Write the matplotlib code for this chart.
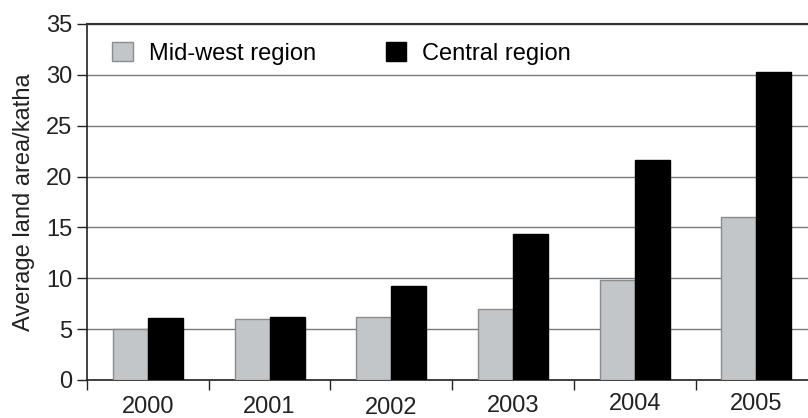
import matplotlib
matplotlib.use("Agg")
import matplotlib.pyplot as plt
from matplotlib.patches import Patch
import numpy as np

years = ["2000", "2001", "2002", "2003", "2004", "2005"]
midwest = [5.0, 6.0, 6.2, 7.0, 9.8, 16.0]
central = [6.1, 6.2, 9.2, 14.4, 21.6, 30.3]
series_names = ["Mid-west region", "Central region"]
yticks = [0, 5, 10, 15, 20, 25, 30, 35]

# per-label vertical offsets (points below axis) to mimic the staggered labels
label_offsets = [23.8, 23.8, 24.4, 23.3, 21.6, 21.6]

plt.rcParams['font.family'] = ['Liberation Sans', 'DejaVu Sans']
FS = 17

fig = plt.figure(figsize=(8.08, 4.18), dpi=100)
ax = fig.add_axes([87/808, 1-380/418, 1-87/808, (380-24)/418])

x = np.arange(len(years))
w = 0.288
grey = "#c2c6c8"
ax.bar(x - w/2, midwest, width=w, color=grey, edgecolor="#8a8d8f", linewidth=1.0, zorder=3, label=series_names[0])
ax.bar(x + w/2, central, width=w, color="black", edgecolor="black", linewidth=1.0, zorder=3, label=series_names[1])

bounds = np.arange(len(years) + 1) - 0.5
ax.set_xticks(bounds)
ax.set_xticklabels([""] * len(bounds))
ax.set_yticks(yticks)
ax.set_yticklabels([str(v) for v in yticks], fontsize=FS)
ax.set_xlim(-0.5, -0.5 + (808-87)/121.7)
ax.set_ylim(0, 35)
ax.yaxis.grid(True, color="#7a7a7a", linewidth=1.0, zorder=0)
ax.set_axisbelow(True)

ax.tick_params(axis='x', length=7.2, width=1.0, color="#222222", direction='out')
ax.tick_params(axis='y', length=7.2, width=1.0, color="#222222", direction='out', pad=3.6)

for i, (yr, off) in enumerate(zip(years, label_offsets)):
    ax.annotate(yr, xy=(x[i], 0), xycoords=('data', 'axes fraction'),
                xytext=(0, -off), textcoords='offset points',
                ha='center', va='baseline', fontsize=FS, color="#222222",
                annotation_clip=False)

ax.spines['right'].set_visible(False)
ax.spines['top'].set_color("#333333")
ax.spines['top'].set_linewidth(1.5)
ax.spines['left'].set_color("#222222")
ax.spines['bottom'].set_color("#222222")
ax.spines['left'].set_linewidth(1.2)
ax.spines['bottom'].set_linewidth(1.2)

ax.set_ylabel("Average land area/katha", fontsize=FS, color="#222222", labelpad=8)

handles = [Patch(facecolor=grey, edgecolor="#8a8d8f"), Patch(facecolor="black", edgecolor="black")]
ax.legend(handles, series_names, ncol=2, frameon=False, fontsize=FS,
          loc='upper left', bbox_to_anchor=(0.0089, 1.0025),
          handlelength=0.86, handleheight=0.86, handletextpad=0.69, columnspacing=2.95,
          borderpad=0.3)

for lbl in ax.get_yticklabels():
    lbl.set_color("#222222")

fig.savefig("out.png", dpi=100)
